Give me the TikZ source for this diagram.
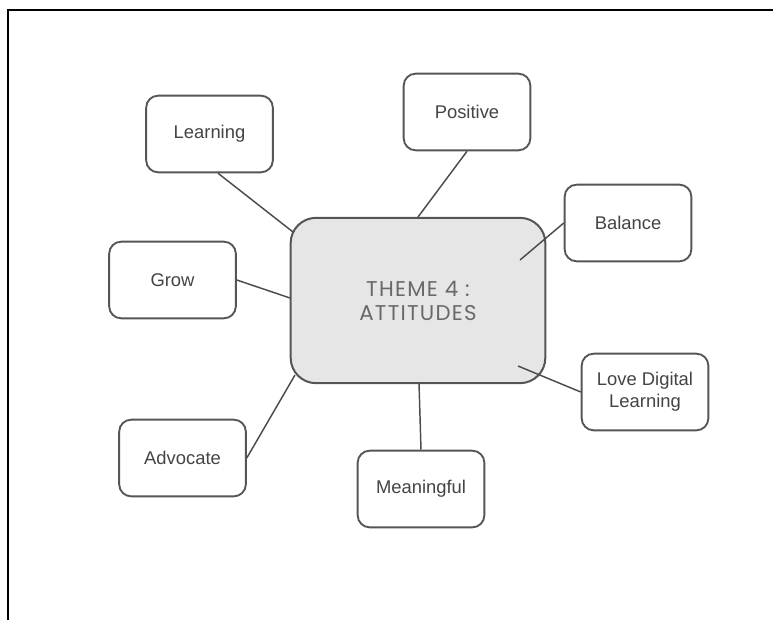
\documentclass[tikz,border=0pt]{standalone}
\usepackage{fontspec}
\setmainfont{Liberation Sans}
\newfontfamily\themefont[LetterSpace=6]{Poppins}
\usetikzlibrary{positioning}

\definecolor{boxline}{HTML}{555555}
\definecolor{boxtext}{HTML}{444444}
\definecolor{themefill}{HTML}{E6E6E6}

\tikzset{
  idea/.style={draw=boxline, line width=1.4pt, rounded corners=9pt, fill=white,
    minimum width=95pt, minimum height=57.5pt, align=center, text=boxtext,
    font=\fontsize{13.8}{16.5}\selectfont},
  theme/.style={draw=boxline, line width=1.5pt, rounded corners=19pt, fill=themefill,
    minimum width=191pt, minimum height=124pt, align=center, text=boxtext!80,
    font=\themefont\fontsize{16}{18}\selectfont},
  link/.style={draw=boxline!90!black, line width=1.1pt}
}

\begin{document}
\begin{tikzpicture}[x=0.75pt, y=-0.75pt]
\useasboundingbox (0,0) rectangle (773,620);
% frame
\draw[line width=1.5pt] (8,620) -- (8,10) -- (773,10);

\node[theme] (th) at (418,300.5) {THEME 4 :\\ATTITUDES};
\node[idea] (learn) at (209.5,134) {Learning};
\node[idea] (pos) at (467,112) {Positive};
\node[idea] (bal) at (628,223) {Balance};
\node[idea] (grow) at (172.5,280) {Grow};
\node[idea] (love) at (645,392) {Love Digital\\Learning};
\node[idea] (adv) at (182.5,458) {Advocate};
\node[idea] (mean) at (421,489) {Meaningful};

% ends of the links on the theme box
\coordinate (tLearn) at (293,232);
\coordinate (tPos) at (418,217);
\coordinate (tBal) at (520,260);
\coordinate (tGrow) at (290,298);
\coordinate (tLove) at (518,366);
\coordinate (tAdv) at (295,375);
\coordinate (tMean) at (419,383);

% links
\draw[link] ([xshift=6.4pt]learn.south) -- (tLearn);
\draw[link] (pos.south) -- (tPos);
\draw[link] (bal.west) -- (tBal);
\draw[link] (grow.east) -- (tGrow);
\draw[link] (love.west) -- (tLove);
\draw[link] (adv.east) -- (tAdv);
\draw[link] (mean.north) -- (tMean);
\end{tikzpicture}
\end{document}
